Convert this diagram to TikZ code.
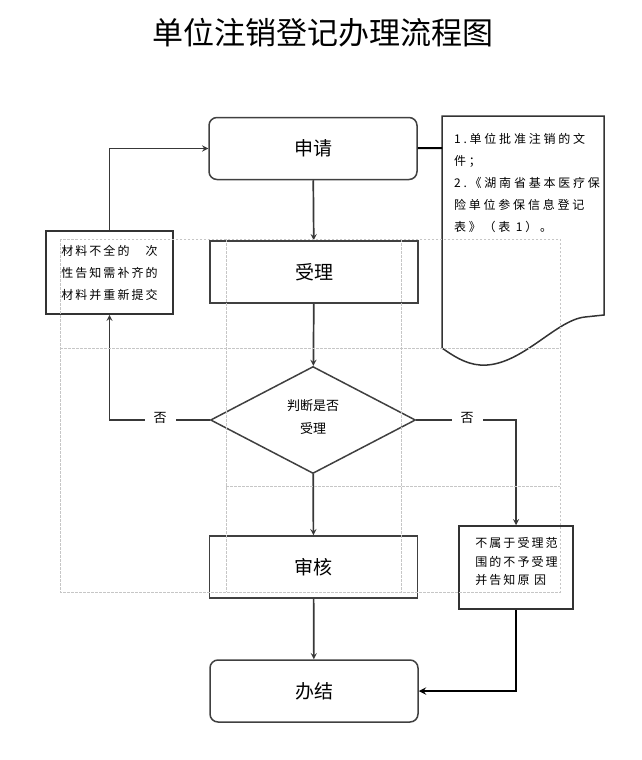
\documentclass[tikz,border=0pt]{standalone}
\usepackage{fontspec}
\newfontfamily\cjk{Noto Sans CJK SC}
\newfontfamily\cjkbox[LetterSpace=17]{Noto Sans CJK SC}
\newfontfamily\cjkdoc[LetterSpace=23]{Noto Sans CJK SC}
\usetikzlibrary{shapes.geometric}

\begin{document}
\begin{tikzpicture}[x=1pt,y=-1pt,>=stealth,
  box/.style={draw=black!75,line width=1.5pt,minimum width=208pt,minimum height=62pt,inner sep=0pt,font=\cjk\fontsize{19}{22}\selectfont},
  rbox/.style={box,rounded corners=8pt},
  small/.style={draw=black!80,line width=1.5pt,inner sep=0pt},
  txt/.style={inner sep=0pt,align=left,font=\cjkbox\fontsize{12}{22}\selectfont},
  nolab/.style={fill=white,inner xsep=9pt,inner ysep=5pt,font=\cjk\fontsize{13}{13}\selectfont},
  arr/.style={->,draw=black!78,line width=1.7pt},
  grid/.style={draw=gray!45,line width=0.5pt,dash pattern=on 2.5pt off 1.5pt}]
\useasboundingbox (0,0) rectangle (642,760);

\node (title) at (323,33) {\cjk\fontsize{31}{31}\selectfont 单位注销登记办理流程图};

% main column
\node[rbox] (apply) at (313,148.5) {申请};
\node[box] (accept) at (314,272) {受理};
\node[draw=black!75,line width=1.5pt,diamond,minimum width=205pt,minimum height=107pt,inner sep=0pt,
  align=center,font=\cjk\fontsize{13}{23}\selectfont] (judge) at (313,420) {判断是否\\受理\\[-17pt]};
\node[box] (review) at (313.5,567) {审核};
\node[rbox] (finish) at (314,691) {办结};

% side boxes
\node[small,minimum width=127pt,minimum height=83pt,txt] (incomplete) at (109.5,272.5)
  {材料不全的　次\\性告知需补齐的\\材料并重新提交};
\node[small,minimum width=114pt,minimum height=83pt] (reject) at (516,567.5) {};
\node[txt,font=\cjkbox\fontsize{12}{18.5}\selectfont] (rejecttext) at (516.5,561.5)
  {不属于受理范\\围的不予受理\\并告知原 因};

% document
\draw[draw=black!80,line width=1.5pt] (442,116) -- (604,116) -- (604,315) -- (585,317)
  .. controls (555,320) and (520,368) .. (480,365)
  .. controls (465,364) and (452,355) .. (442,348) -- cycle;
\coordinate (doc) at (442,148);
\node[txt,anchor=north west,font=\cjkdoc\fontsize{12}{22}\selectfont] (doctext) at (454,133)
  {1.单位批准注销的文\\件；\\2.《湖南省基本医疗保\\险单位参保信息登记\\表》（表 1）。};

% connectors
\draw[black,line width=2pt] (apply) -- (doc);
\draw[arr] (apply) -- (accept);
\draw[arr] (accept) -- (judge);
\draw[arr] (judge) -- (review);
\draw[arr] (review) -- (finish);
\draw[arr] (judge.west) -| (incomplete.south);
\draw[arr] (incomplete.north) |- (apply.west);
\draw[arr] (judge.east) -| (reject.north);
\draw[arr,draw=black,line width=2.2pt] (reject.south) |- (finish.east);
\node[nolab] (noleft) at (160,418) {否};
\node[nolab] (noright) at (467,418) {否};

% grey guide lines
\draw[grid] (60,239) rectangle (560,592);
\foreach \x in {226,401}
{
\draw[grid] (\x,239) -- (\x,592);
}
\draw[grid] (60,348) -- (560,348);
\draw[grid] (226,486) -- (560,486);

\end{tikzpicture}
\end{document}
